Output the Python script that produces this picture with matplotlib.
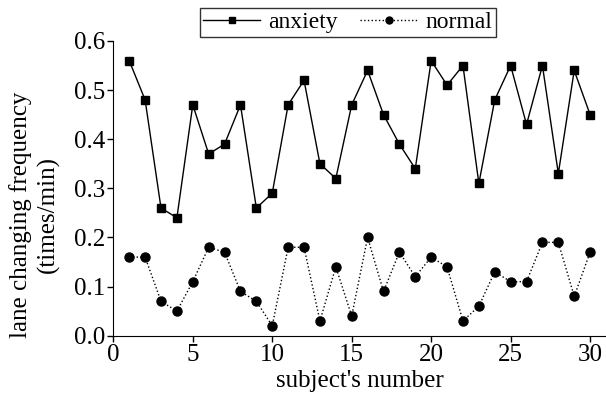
import numpy as np
import matplotlib
matplotlib.use("Agg")
import matplotlib.pyplot as plt

plt.rcParams['font.family'] = ['Liberation Serif', 'DejaVu Serif']

# Data
subjects = np.arange(1, 31)
anxiety = [0.56, 0.48, 0.26, 0.24, 0.47, 0.37, 0.39, 0.47, 0.26, 0.29,
           0.47, 0.52, 0.35, 0.32, 0.47, 0.54, 0.45, 0.39, 0.34, 0.56,
           0.51, 0.55, 0.31, 0.48, 0.55, 0.43, 0.55, 0.33, 0.54, 0.45]
normal = [0.16, 0.16, 0.07, 0.05, 0.11, 0.18, 0.17, 0.09, 0.07, 0.02,
          0.18, 0.18, 0.03, 0.14, 0.04, 0.20, 0.09, 0.17, 0.12, 0.16,
          0.14, 0.03, 0.06, 0.13, 0.11, 0.11, 0.19, 0.19, 0.08, 0.17]

fig = plt.figure(figsize=(6.06, 3.94), dpi=100)
ax = fig.add_axes([0.187, 0.148, 0.813, 0.748])

ax.plot(subjects, anxiety, color='black', lw=1.0, marker='s', markersize=6,
        label='anxiety')
ax.plot(subjects, normal, color='black', lw=1.0, ls=':', marker='o',
        markersize=6.5, label='normal')

ax.set_xlim(0, 31)
ax.set_ylim(0, 0.6)
ax.set_xticks([0, 5, 10, 15, 20, 25, 30])
ax.set_yticks(np.arange(0, 0.61, 0.1))
ax.yaxis.set_major_formatter(matplotlib.ticker.FormatStrFormatter('%.1f'))
ax.spines['top'].set_visible(False)
ax.spines['right'].set_visible(False)
ax.tick_params(labelsize=18, length=4, width=1, direction='out', pad=2)

ax.set_xlabel("subject's number", fontsize=18, labelpad=3)
ax.set_ylabel("lane changing frequency\n(times/min)", fontsize=18,
              linespacing=1.3)
ax.yaxis.set_label_coords(-0.108, 0.41)

leg = ax.legend(loc='upper center', bbox_to_anchor=(0.476, 1.112), ncol=2,
                fontsize=17, frameon=True, fancybox=False, edgecolor='black',
                handlelength=2.4, columnspacing=0.95, borderpad=0.15,
                handletextpad=0.35, borderaxespad=0)
leg.get_frame().set_linewidth(1.0)
for h in leg.legend_handles:
    h.set_markersize(5)

fig.savefig('out.png', dpi=100)
